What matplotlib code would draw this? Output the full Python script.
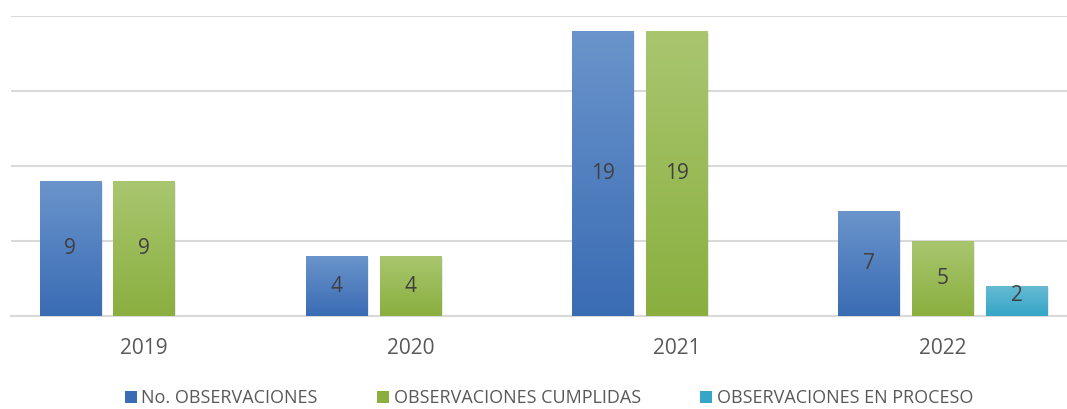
import numpy as np
import matplotlib.pyplot as plt
from matplotlib.colors import LinearSegmentedColormap
from matplotlib.patches import Patch

years = ["2019", "2020", "2021", "2022"]
total = [9, 4, 19, 7]
cumplidas = [9, 4, 19, 5]
en_proceso = [0, 0, 0, 2]

series = [
    ("No. OBSERVACIONES", total, "#6a94cb", "#3a6cb4"),
    ("OBSERVACIONES CUMPLIDAS", cumplidas, "#a9c66f", "#8aaf3f"),
    ("OBSERVACIONES EN PROCESO", en_proceso, "#66bad2", "#35a6c8"),
]

plt.rcParams['font.family'] = ['Open Sans', 'DejaVu Sans']

fig = plt.figure(figsize=(10.67, 4.09), dpi=100)
# plot area runs slightly past the right edge, like the cropped original
ax = fig.add_axes([11 / 1067, 93 / 409, 1065 / 1067, 300 / 409])

x = np.arange(len(years))
width = 0.231
offset = 0.277

handles = []
for i, (name, vals, top, bottom) in enumerate(series):
    pos = x + (i - 1) * offset
    cmap = LinearSegmentedColormap.from_list(name, [bottom, top])
    grad = np.linspace(0, 1, 256).reshape(-1, 1)
    for p, v in zip(pos, vals):
        if v == 0:
            continue
        # soft shadow
        ax.bar(p + 0.006, v, width, bottom=-0.1, color="#000000", alpha=0.08, zorder=2)
        bar = ax.bar(p, v, width, color=bottom, zorder=3)[0]
        img = ax.imshow(grad, cmap=cmap, aspect="auto", origin="lower",
                        extent=[p - width / 2, p + width / 2, 0, v], zorder=4)
        img.set_clip_path(bar)
        # short bars get their label nudged up a bit
        ypos = v / 2 if v > 3 else v * 0.68
        ax.text(p, ypos, str(v), ha="center", va="center", fontsize=15,
                color="#404040", zorder=5)
    handles.append(Patch(facecolor=bottom, label=name))

ax.set_xlim(-0.5, len(years) - 0.5)
ax.set_ylim(0, 20)
ax.set_yticks([0, 5, 10, 15, 20])
ax.yaxis.grid(True, color="#d9d9d9", linewidth=1.5)
ax.set_axisbelow(True)
ax.tick_params(axis="y", left=False, labelleft=False)
ax.tick_params(axis="x", bottom=False, pad=12)
ax.set_xticks(x)
ax.set_xticklabels(years, fontsize=15, color="#595959")
for s in ["top", "right", "left"]:
    ax.spines[s].set_visible(False)
ax.spines["bottom"].set_color("#d9d9d9")
ax.spines["bottom"].set_linewidth(1.5)

fig.legend(handles=handles, loc="center", bbox_to_anchor=(549 / 1067, 1 - 398 / 409),
           ncol=3, frameon=False, fontsize=13, handlelength=0.65, handleheight=0.65,
           handletextpad=0.25, columnspacing=3.3, labelcolor="#595959")

fig.savefig("out.png", dpi=100)
